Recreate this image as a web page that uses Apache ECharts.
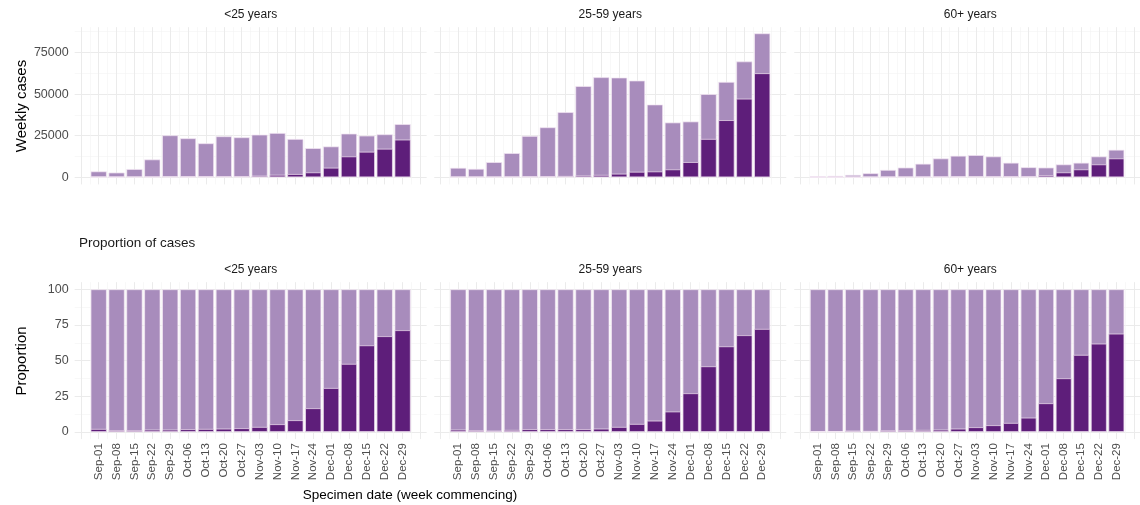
<!DOCTYPE html>
<html>
<head>
<meta charset="utf-8">
<script src="https://cdn.jsdelivr.net/npm/echarts@6/dist/echarts.min.js"></script>
<style>
html, body { margin: 0; padding: 0; background: #fff; }
#chart { width: 1140px; height: 505px; }
</style>
</head>
<body>
<div id="chart"></div>
<script>
// weeks (specimen date, week commencing)
var weeks = ['Sep-01', 'Sep-08', 'Sep-15', 'Sep-22', 'Sep-29', 'Oct-06', 'Oct-13', 'Oct-20', 'Oct-27',
    'Nov-03', 'Nov-10', 'Nov-17', 'Nov-24', 'Dec-01', 'Dec-08', 'Dec-15', 'Dec-22', 'Dec-29'];
var ageGroups = ['<25 years', '25-59 years', '60+ years'];

// weekly cases, all cases
var totalU25 = [3500, 2800, 4900, 10700, 25200, 23400, 20400, 24600, 24000, 25600, 26600, 23000, 17500, 18500, 26200, 25000, 25800, 31900];
var total2559 = [5650, 5040, 9070, 14500, 24800, 30000, 39100, 54800, 60100, 59900, 58100, 43700, 32900, 33500, 50000, 57300, 69600, 86500];
var total60 = [600, 800, 1400, 2400, 4400, 5800, 8100, 11300, 12900, 13300, 12500, 8700, 6000, 5800, 7700, 8700, 12500, 16500];

// weekly cases, dark part
var darkU25 = [70, 35, 60, 170, 400, 450, 430, 570, 620, 900, 1440, 1900, 2900, 5700, 12500, 15300, 17100, 22600];
var dark2559 = [90, 60, 80, 200, 470, 570, 740, 1040, 1380, 2100, 3250, 3450, 4700, 9100, 23000, 34300, 47200, 62500];
var dark60 = [3, 4, 13, 17, 50, 70, 110, 180, 300, 440, 590, 550, 600, 1170, 2900, 4700, 7700, 11300];

// proportion of cases (%)
var fullBar = [100, 100, 100, 100, 100, 100, 100, 100, 100, 100, 100, 100, 100, 100, 100, 100, 100, 100];
var propU25 = [2.1, 1.2, 1.2, 1.6, 1.6, 1.9, 2.1, 2.3, 2.6, 3.5, 5.4, 8.2, 16.6, 30.8, 47.7, 60.7, 67.1, 71.3];
var prop2559 = [1.6, 1.2, 0.9, 1.4, 1.9, 1.9, 1.9, 1.9, 2.3, 3.5, 5.6, 7.9, 14.3, 27.1, 46.0, 60.0, 67.8, 72.2];
var prop60 = [0.5, 0.5, 0.9, 0.7, 1.2, 1.2, 1.4, 1.6, 2.3, 3.3, 4.7, 6.3, 10.0, 20.1, 37.6, 54.0, 61.9, 68.9];

var countTicks = [0, 25000, 50000, 75000];
var propTicks = [0, 25, 50, 75, 100];

var LIGHT = '#a88cbc';
var DARK = '#5e1e7a';
var GRID_COL = '#ebebeb';
var FONT = 'Liberation Sans, Arial, sans-serif';

var myChart = echarts.init(document.getElementById('chart'));

var panelLeft = [74.65, 434.25, 794.25];
var panelWidth = 352;
var rows = [
    {top: 27.2, height: 157.2, min: -4300, max: 90200, step: 25000, ticks: countTicks,
        total: [totalU25, total2559, total60], dark: [darkU25, dark2559, dark60]},
    {top: 282.2, height: 156.9, min: -5, max: 105, step: 25, ticks: propTicks,
        total: [fullBar, fullBar, fullBar], dark: [propU25, prop2559, prop60]}
];

function pairs(arr) {
    return arr.map(function (v, i) { return [i, v]; });
}

var grids = [], xAxes = [], yAxes = [], series = [], texts = [];

rows.forEach(function (row, r) {
    ageGroups.forEach(function (name, c) {
        var g = r * 3 + c;
        grids.push({left: panelLeft[c], width: panelWidth, top: row.top, height: row.height});
        xAxes.push({
            type: 'value', gridIndex: g, min: -1.345, max: 18.345,
            minInterval: 1, maxInterval: 1,
            axisLine: {show: false}, axisTick: {show: false},
            axisLabel: {
                show: r === 1, rotate: 90, margin: 4, fontSize: 11.5, color: '#4d4d4d',
                fontFamily: FONT,
                showMinLabel: false, showMaxLabel: false,
                formatter: function (v) {
                    var k = Math.round(v);
                    if (Math.abs(v - k) > 1e-6 || k < 0 || k >= weeks.length) return '';
                    return weeks[k];
                }
            },
            splitLine: {show: true, showMinLine: false, showMaxLine: false, lineStyle: {color: GRID_COL, width: 1}},
            minorTick: {show: false, splitNumber: 2},
            minorSplitLine: {show: true, lineStyle: {color: '#f4f4f4', width: 0.6}}
        });
        yAxes.push({
            type: 'value', gridIndex: g, min: row.min, max: row.max,
            minInterval: row.step, maxInterval: row.step,
            axisLine: {show: false}, axisTick: {show: false},
            axisLabel: {
                show: c === 0, margin: 6, fontSize: 12.5, color: '#4d4d4d',
                fontFamily: FONT,
                showMinLabel: false, showMaxLabel: false,
                formatter: function (v) {
                    var k = Math.round(Math.abs(v));
                    return row.ticks.indexOf(k) >= 0 && Math.abs(Math.abs(v) - k) < 1e-6 ? String(k) : '';
                }
            },
            splitLine: {show: true, showMinLine: false, showMaxLine: false, lineStyle: {color: GRID_COL, width: 1}},
            minorTick: {show: false, splitNumber: 2},
            minorSplitLine: {show: true, lineStyle: {color: '#f4f4f4', width: 0.6}}
        });
        series.push({
            type: 'bar', xAxisIndex: g, yAxisIndex: g, barWidth: '90%',
            data: pairs(row.total[c]),
            itemStyle: {color: LIGHT, borderColor: '#f3e6f4', borderWidth: 0.7},
            silent: true
        });
        series.push({
            type: 'bar', xAxisIndex: g, yAxisIndex: g, barWidth: '90%', barGap: '-100%',
            data: pairs(row.dark[c]),
            itemStyle: {color: DARK, borderColor: '#f3e6f4', borderWidth: 0.7},
            silent: true
        });
        // strip title
        texts.push({
            type: 'text', x: panelLeft[c] + panelWidth / 2, y: r === 0 ? 15 : 270,
            style: {text: name, fontSize: 12, fill: '#1a1a1a', align: 'center', verticalAlign: 'middle',
                fontFamily: FONT}
        });
    });
});

// axis titles and subtitle
texts.push({
    type: 'text', x: 22, y: 106, rotation: Math.PI / 2,
    style: {text: 'Weekly cases', fontSize: 15, fill: '#000', align: 'center', verticalAlign: 'middle',
        fontFamily: FONT}
});
texts.push({
    type: 'text', x: 22, y: 361, rotation: Math.PI / 2,
    style: {text: 'Proportion', fontSize: 15, fill: '#000', align: 'center', verticalAlign: 'middle',
        fontFamily: FONT}
});
texts.push({
    type: 'text', x: 79, y: 243,
    style: {text: 'Proportion of cases', fontSize: 13.5, fill: '#1a1a1a', align: 'left', verticalAlign: 'middle',
        fontFamily: FONT}
});
texts.push({
    type: 'text', x: 410, y: 495,
    style: {text: 'Specimen date (week commencing)', fontSize: 13.5, fill: '#000', align: 'center', verticalAlign: 'middle',
        fontFamily: FONT}
});

var option = {
    backgroundColor: '#fff',
    animation: false,
    grid: grids,
    xAxis: xAxes,
    yAxis: yAxes,
    series: series,
    graphic: texts
};
myChart.setOption(option);
</script>
</body>
</html>
